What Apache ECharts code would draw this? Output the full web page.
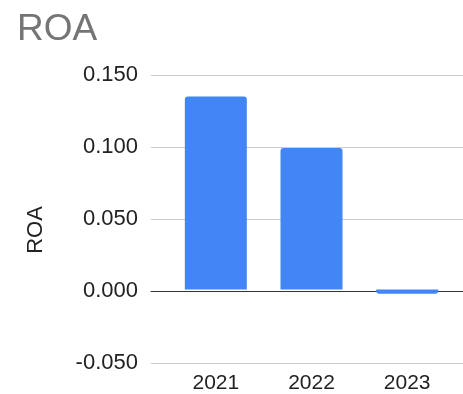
<!DOCTYPE html>
<html>
<head>
<meta charset="utf-8">
<script src="https://cdn.jsdelivr.net/npm/echarts@6/dist/echarts.min.js"></script>
<style>
  html, body { margin: 0; padding: 0; background: #fff; }
  #chart { width: 463px; height: 394px; }
</style>
</head>
<body>
<div id="chart"></div>
<script>
// ROA by fiscal year
const years = ['2021', '2022', '2023'];
const roaValues = [0.135, 0.099, -0.003];
const yTicks = { min: -0.05, max: 0.15, step: 0.05 };

const FONT = 'Arial, "Liberation Sans", sans-serif';
const BLUE = '#4285F4';

const chart = echarts.init(document.getElementById('chart'), null, { renderer: 'canvas' });

const barData = roaValues.map(v => ({
  value: v,
  itemStyle: { borderRadius: v >= 0 ? [3, 3, 0, 0] : [0, 0, 3, 3] }
}));

chart.setOption({
  animation: false,
  backgroundColor: '#fff',
  title: {
    text: 'ROA',
    left: 12,
    top: 6,
    textStyle: { fontFamily: FONT, fontSize: 37, fontWeight: 'normal', color: '#757575' }
  },
  grid: [
    // full-width frame carrying gridlines, tick labels and the zero line
    { left: 151, right: 0, top: 75, bottom: 31 },
    // inset area where the category bands live
    { left: 168, right: 8, top: 75, bottom: 31 }
  ],
  xAxis: [
    {
      gridIndex: 0, type: 'value', min: 0, max: 1,
      axisLine: { show: true, onZero: true, lineStyle: { color: '#333', width: 1 } },
      axisTick: { show: false }, axisLabel: { show: false }, splitLine: { show: false }
    },
    {
      gridIndex: 1, type: 'category', data: years,
      axisLine: { show: false }, axisTick: { show: false },
      axisLabel: { fontFamily: FONT, fontSize: 21, color: '#222', margin: 12 }
    }
  ],
  yAxis: [
    {
      gridIndex: 0, type: 'value',
      min: yTicks.min, max: yTicks.max, interval: yTicks.step,
      name: 'ROA', nameLocation: 'middle', nameGap: 104,
      nameTextStyle: { fontFamily: FONT, fontSize: 22, color: '#222', padding: [0, 22, 0, 0] },
      axisLine: { show: false }, axisTick: { show: false },
      axisLabel: {
        fontFamily: FONT, fontSize: 22, color: '#222', margin: 13,
        formatter: v => v.toFixed(3)
      },
      splitLine: { show: true, lineStyle: { color: '#cccccc', width: 1 } }
    },
    {
      gridIndex: 1, type: 'value',
      min: yTicks.min, max: yTicks.max, interval: yTicks.step,
      show: false, splitLine: { show: false }
    }
  ],
  series: [
    {
      type: 'bar',
      xAxisIndex: 1, yAxisIndex: 1,
      data: barData,
      barWidth: 62,
      itemStyle: { color: BLUE },
      z: 1
    }
  ]
});
</script>
</body>
</html>
